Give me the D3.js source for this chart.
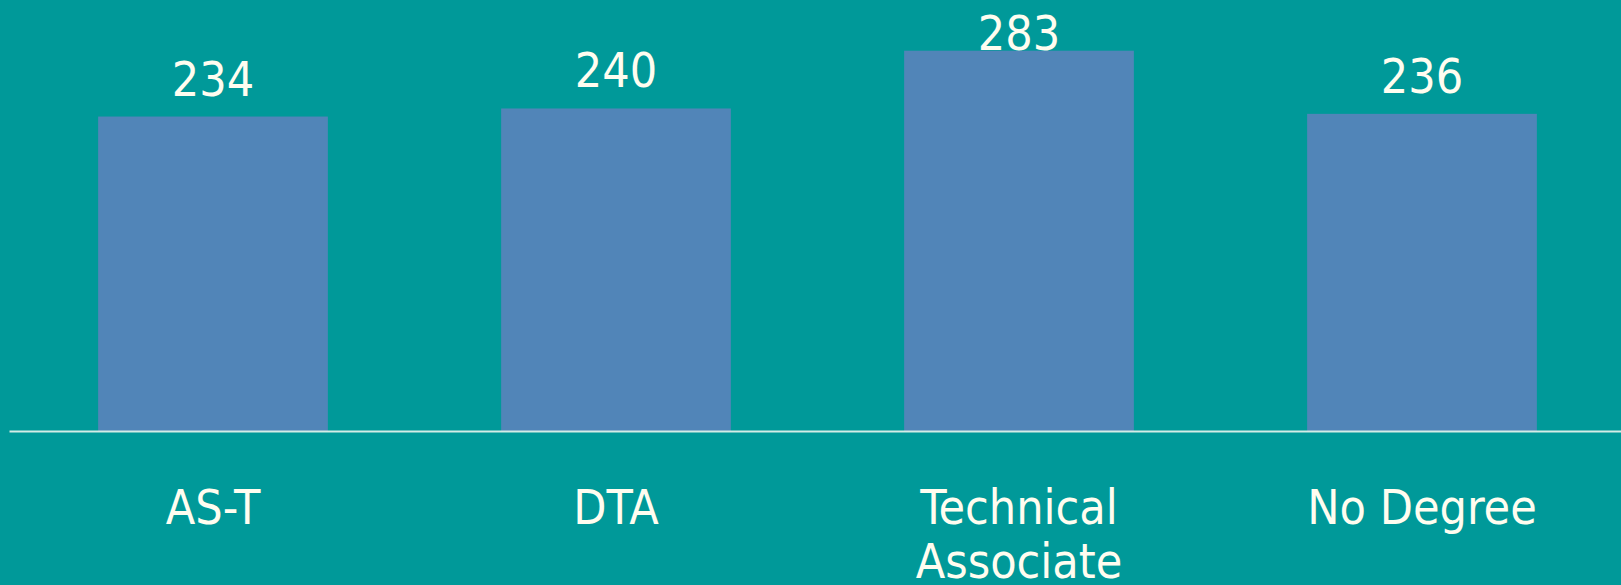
<!DOCTYPE html>
<html>
<head>
<meta charset="utf-8">
<script src="https://cdn.jsdelivr.net/npm/d3@7"></script>
<style>
  html, body { margin: 0; padding: 0; background: #009999; overflow: hidden; }
  text { font-family: "DejaVu Sans Condensed", "DejaVu Sans", sans-serif; fill: #fffdf0; }
</style>
</head>
<body>
<svg id="chart"></svg>
<script>
// Chart values
const categories = ["AS-T", "DTA", "Technical Associate", "No Degree"];
const values = [234, 240, 283, 236];
const labelLines = [["AS-T"], ["DTA"], ["Technical", "Associate"], ["No Degree"]];

const width = 1621, height = 585;
const baseY = 431;

const svg = d3.select('#chart')
    .attr('width', width)
    .attr('height', height)
    .style('display', 'block');

svg.append('rect')
    .attr('width', width)
    .attr('height', height)
    .attr('fill', '#009999');

const x = d3.scaleBand()
    .domain(categories)
    .range([11.5, 1623.5])
    .paddingInner(0.43)
    .paddingOuter(0.215);

const y = d3.scaleLinear()
    .domain([0, 283])
    .range([baseY, 50.7]);

const data = categories.map((c, i) => ({ cat: c, value: values[i], lines: labelLines[i] }));

// Bars
svg.selectAll('.bar')
    .data(data)
    .enter()
    .append('rect')
    .attr('class', 'bar')
    .attr('x', d => x(d.cat))
    .attr('y', d => y(d.value))
    .attr('width', x.bandwidth())
    .attr('height', d => baseY - y(d.value))
    .attr('fill', '#5185b8');

// Baseline
svg.append('line')
    .attr('x1', 9.5)
    .attr('x2', width)
    .attr('y1', baseY + 0.5)
    .attr('y2', baseY + 0.5)
    .attr('stroke', '#d4ece6')
    .attr('stroke-width', 2);

// Value labels (kept inside the picture at the top)
svg.selectAll('.value-label')
    .data(data)
    .enter()
    .append('text')
    .attr('class', 'value-label')
    .attr('x', d => x(d.cat) + x.bandwidth() / 2)
    .attr('y', d => Math.max(y(d.value) - 21, 49.5))
    .attr('text-anchor', 'middle')
    .style('font-size', '48px')
    .text(d => d.value);

// Category labels
const catLabels = svg.selectAll('.cat-label')
    .data(data)
    .enter()
    .append('text')
    .attr('class', 'cat-label')
    .attr('text-anchor', 'middle')
    .style('font-size', '48px');

catLabels.selectAll('tspan')
    .data(d => d.lines.map(l => ({ l, cx: x(d.cat) + x.bandwidth() / 2 })))
    .enter()
    .append('tspan')
    .attr('x', d => d.cx)
    .attr('y', (d, i) => 524 + i * 54)
    .text(d => d.l);
</script>
</body>
</html>
